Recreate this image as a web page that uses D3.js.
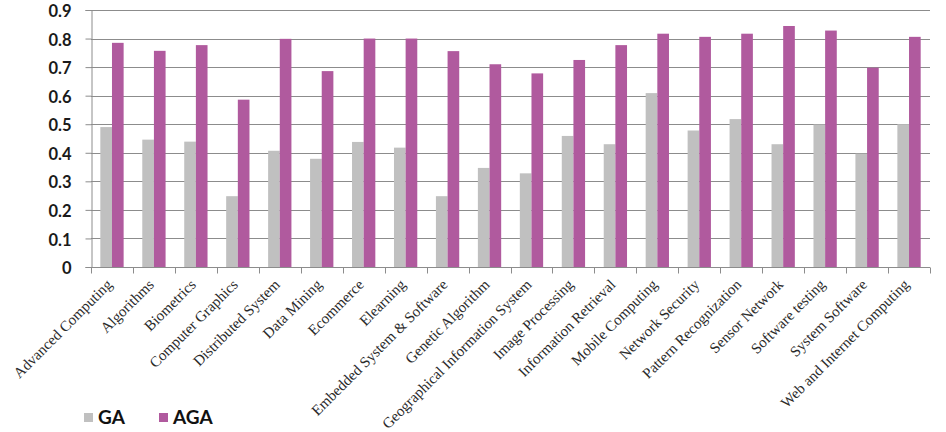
<!DOCTYPE html>
<html>
<head>
<meta charset="utf-8">
<script src="https://cdn.jsdelivr.net/npm/d3@7"></script>
<style>
  html, body { margin: 0; padding: 0; background: #fff; }
  svg { display: block; }
  .y-tick { font-family: Lato, "Open Sans", sans-serif; font-size: 16.5px; font-weight: 700; fill: #1a1a1a; }
  .x-label { font-family: "Liberation Serif", "DejaVu Serif", serif; font-size: 15px; fill: #2a2a2a; }
  .legend { font-family: Lato, "Open Sans", sans-serif; font-size: 19px; font-weight: 700; fill: #111; }
</style>
</head>
<body>
<div id="chart"></div>
<script>
// categories on the x axis
const categories = [
  "Advanced Computing", "Algorithms", "Biometrics", "Computer Graphics",
  "Distributed System", "Data Mining", "Ecommerce", "Elearning",
  "Embedded System & Software", "Genetic Algorithm", "Geographical Information System",
  "Image Processing", "Information Retrieval", "Mobile Computing", "Network Security",
  "Pattern Recognization", "Sensor Network", "Software testing", "System Software",
  "Web and Internet Computing"
];

const seriesNames = ["GA", "AGA"];

const gaValues = [0.49, 0.446, 0.439, 0.248, 0.407, 0.379, 0.438, 0.418, 0.248, 0.347,
  0.328, 0.459, 0.43, 0.609, 0.478, 0.518, 0.43, 0.499, 0.397, 0.50];

const agaValues = [0.785, 0.757, 0.777, 0.586, 0.799, 0.686, 0.80, 0.80, 0.756, 0.71,
  0.678, 0.725, 0.777, 0.817, 0.806, 0.817, 0.844, 0.828, 0.698, 0.806];

const yTicks = [0, 0.1, 0.2, 0.3, 0.4, 0.5, 0.6, 0.7, 0.8, 0.9];

const colors = { GA: "#c0c0c0", AGA: "#b05a9e" };

const width = 946, height = 432;
const margin = { top: 10, right: 16, bottom: 165, left: 91 };

const data = categories.map((c, i) => ({ category: c, GA: gaValues[i], AGA: agaValues[i] }));

const svg = d3.select("#chart").append("svg")
  .attr("width", width)
  .attr("height", height);

const x0 = d3.scaleBand()
  .domain(categories)
  .range([margin.left, width - margin.right])
  .padding(0);

const x1 = d3.scaleBand()
  .domain(seriesNames)
  .range([0, x0.bandwidth()])
  .paddingInner(0)
  .paddingOuter(0.8);

const y = d3.scaleLinear()
  .domain([0, 0.9])
  .range([height - margin.bottom, margin.top]);

// gridlines
svg.append("g")
  .selectAll("line")
  .data(yTicks.slice(1))
  .join("line")
  .attr("x1", margin.left)
  .attr("x2", width - margin.right)
  .attr("y1", d => Math.round(y(d)) + 0.5)
  .attr("y2", d => Math.round(y(d)) + 0.5)
  .attr("stroke", "#8c8c8c")
  .attr("stroke-width", 1);

// bars
const groups = svg.append("g")
  .selectAll("g")
  .data(data)
  .join("g")
  .attr("transform", d => `translate(${x0(d.category)},0)`);

groups.selectAll("rect")
  .data(d => seriesNames.map(k => ({ key: k, value: d[k] })))
  .join("rect")
  .attr("x", d => x1(d.key))
  .attr("y", d => y(d.value))
  .attr("width", x1.bandwidth())
  .attr("height", d => y(0) - y(d.value))
  .attr("fill", d => colors[d.key]);

// y axis
const yAxis = svg.append("g")
  .attr("transform", `translate(${margin.left + 0.5},0)`)
  .call(d3.axisLeft(y).tickValues(yTicks).tickSize(6).tickPadding(14));
yAxis.attr("font-size", null).attr("font-family", null);
yAxis.select(".domain").attr("stroke", "#8c8c8c");
yAxis.selectAll(".tick line").attr("stroke", "#8c8c8c");
yAxis.selectAll(".tick text")
  .attr("class", "y-tick")
  .attr("fill", null)
  .attr("dy", "0.4em")
  .text(d => d === 0 ? "0" : d3.format(".1f")(d));

// x axis baseline and boundary ticks
const base = Math.round(y(0)) + 0.5;
svg.append("line")
  .attr("x1", margin.left).attr("x2", width - margin.right)
  .attr("y1", base).attr("y2", base)
  .attr("stroke", "#8c8c8c");

const boundaries = categories.map(c => x0(c)).concat([x0.range()[1]]);
svg.append("g")
  .selectAll("line")
  .data(boundaries)
  .join("line")
  .attr("x1", d => Math.round(d) + 0.5)
  .attr("x2", d => Math.round(d) + 0.5)
  .attr("y1", base)
  .attr("y2", base + 6)
  .attr("stroke", "#8c8c8c");

// rotated category labels
svg.append("g")
  .selectAll("text")
  .data(categories)
  .join("text")
  .attr("class", "x-label")
  .attr("text-anchor", "end")
  .attr("transform", d => `translate(${x0(d) + x0.bandwidth() / 2 + 1},${base + 18}) rotate(-45)`)
  .text(d => d);

// legend
const legend = svg.append("g")
  .attr("transform", `translate(84,${height - 19})`);

const legendItems = legend.selectAll("g")
  .data(seriesNames)
  .join("g")
  .attr("transform", (d, i) => `translate(${i === 0 ? 0 : 75},0)`);

legendItems.append("rect")
  .attr("x", 0).attr("y", 0)
  .attr("width", 9).attr("height", 9)
  .attr("fill", d => colors[d]);

legendItems.append("text")
  .attr("class", "legend")
  .attr("x", 14)
  .attr("y", 11)
  .text(d => d);
</script>
</body>
</html>
